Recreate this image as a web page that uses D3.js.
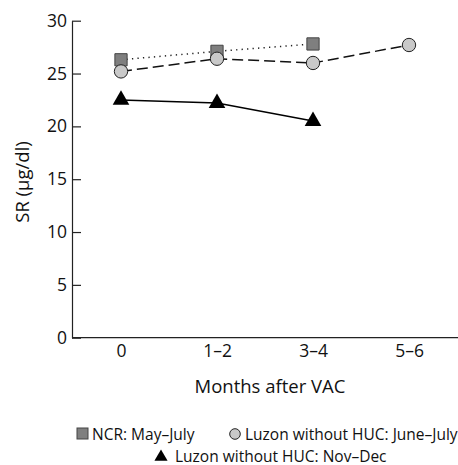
<!DOCTYPE html>
<html>
<head>
<meta charset="utf-8">
<script src="https://cdn.jsdelivr.net/npm/d3@7"></script>
<style>
  body { margin: 0; background: #fff; }
  svg text { font-family: "Open Sans", sans-serif; fill: #111; }
</style>
</head>
<body>
<svg id="chart"></svg>
<script>
// categories and values
var months = ['0', '1–2', '3–4', '5–6'];
var yTicks = [0, 5, 10, 15, 20, 25, 30];
var ncrMayJuly = [26.3, 27.1, 27.8];
var luzonJuneJuly = [25.2, 26.4, 26.0, 27.7];
var luzonNovDec = [22.5, 22.2, 20.5];

var seriesNames = ['NCR: May–July', 'Luzon without HUC: June–July', 'Luzon without HUC: Nov–Dec'];

var W = 458, H = 465;
var plotLeft = 72, plotTop = 20.7, plotBottom = 337.7;

var svg = d3.select('#chart').attr('width', W).attr('height', H);

var xScale = d3.scalePoint().domain(months).range([plotLeft + 1, W - 1]).padding(0.5);
var yScale = d3.scaleLinear().domain([0, 30]).range([plotBottom, plotTop]);

// y axis, ticks pointing inside
var yAxis = svg.append('g')
  .attr('transform', `translate(${plotLeft}, 0)`)
  .call(d3.axisLeft(yScale).tickValues(yTicks).tickSizeInner(-9).tickSizeOuter(0).tickPadding(5));
yAxis.selectAll('text').style('font-size', '17.5px');
yAxis.selectAll('line, path').attr('stroke', '#222').attr('stroke-width', 1.2);

// x axis, no ticks
var xAxis = svg.append('g')
  .attr('transform', `translate(0, ${plotBottom})`)
  .call(d3.axisBottom(xScale).tickSize(0).tickPadding(7));
xAxis.select('.domain').attr('d', `M${plotLeft},0H${W}`).attr('stroke', '#222').attr('stroke-width', 1.2);
xAxis.selectAll('text').style('font-size', '17.5px');

svg.append('text')
  .attr('x', 270).attr('y', 393)
  .attr('text-anchor', 'middle')
  .style('font-size', '18.5px')
  .text('Months after VAC');

svg.append('text')
  .attr('transform', 'translate(29, 182) rotate(-90)')
  .attr('text-anchor', 'middle')
  .style('font-size', '18.5px')
  .text('SR (µg/dl)');

var line = d3.line().x((d, i) => xScale(months[i])).y(d => yScale(d));

svg.append('path').datum(ncrMayJuly)
  .attr('d', line).attr('fill', 'none')
  .attr('stroke', '#222').attr('stroke-width', 1.5).attr('stroke-dasharray', '1.3,4.2');

svg.append('path').datum(luzonJuneJuly)
  .attr('d', line).attr('fill', 'none')
  .attr('stroke', '#111').attr('stroke-width', 1.5).attr('stroke-dasharray', '11,5');

svg.append('path').datum(luzonNovDec)
  .attr('d', line).attr('fill', 'none')
  .attr('stroke', '#000').attr('stroke-width', 1.5);

var square = d3.symbol().type(d3.symbolSquare).size(150);
var circle = d3.symbol().type(d3.symbolCircle).size(140);
var triangle = d3.symbol().type(d3.symbolTriangle).size(120);

svg.selectAll('path.ncr')
  .data(ncrMayJuly)
  .enter()
  .append('path')
  .attr('class', 'ncr')
  .attr('d', square)
  .attr('transform', (d, i) => `translate(${xScale(months[i])}, ${yScale(d)})`)
  .style('fill', '#7f7f7f')
  .style('stroke', '#444');

svg.selectAll('path.june')
  .data(luzonJuneJuly)
  .enter()
  .append('path')
  .attr('class', 'june')
  .attr('d', circle)
  .attr('transform', (d, i) => `translate(${xScale(months[i])}, ${yScale(d)})`)
  .style('fill', '#c9c9c9')
  .style('stroke', '#222');

svg.selectAll('path.nov')
  .data(luzonNovDec)
  .enter()
  .append('path')
  .attr('class', 'nov')
  .attr('d', triangle)
  .attr('transform', (d, i) => `translate(${xScale(months[i])}, ${yScale(d)})`)
  .style('fill', '#000');

// legend
var leg = svg.append('g').style('font-size', '15.5px');
leg.append('rect').attr('x', 77).attr('y', 428).attr('width', 11).attr('height', 11)
  .style('fill', '#7f7f7f').style('stroke', '#444');
leg.append('text').attr('x', 92).attr('y', 440).text(seriesNames[0]);

leg.append('circle').attr('cx', 235).attr('cy', 434).attr('r', 5.3)
  .style('fill', '#c9c9c9').style('stroke', '#222');
leg.append('text').attr('x', 245).attr('y', 440).text(seriesNames[1]);

leg.append('path').attr('d', d3.symbol().type(d3.symbolTriangle).size(75))
  .attr('transform', 'translate(161, 457)').style('fill', '#000');
leg.append('text').attr('x', 175).attr('y', 462).text(seriesNames[2]);
</script>
</body>
</html>
